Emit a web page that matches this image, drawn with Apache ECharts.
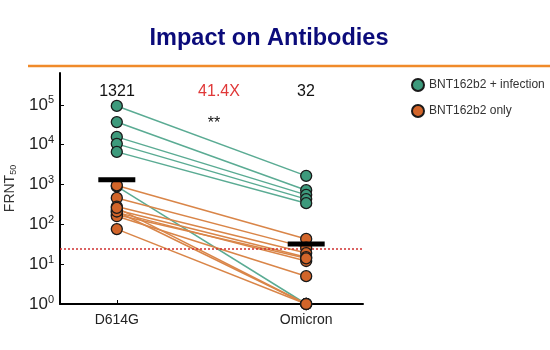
<!DOCTYPE html>
<html><head><meta charset="utf-8">
<script src="https://cdn.jsdelivr.net/npm/echarts@6/dist/echarts.min.js"></script>
<style>html,body{margin:0;padding:0;background:#fff}#c{width:550px;height:350px}</style>
</head><body><div id="c"></div>
<script>
// categories (x positions 1 and 2)
const categories = ['D614G', 'Omicron'];
// BNT162b2 + infection: paired values
const infD614G   = [94000, 37000, 15700, 10500, 6600, 900];
const infOmicron = [1650, 720, 550, 430, 340, 1];
// BNT162b2 only: paired values
const onlyD614G   = [950, 460, 280, 230, 200, 175, 160, 210, 260, 76];
const onlyOmicron = [43, 26, 19, 15, 12, 14, 5, 1, 1, 1];
// geometric means
const means = [1321, 32];
const meanLabels = ['1321', '32'];
const foldLabel = '41.4X';
const signif = '**';
const limit = 25;
const yTicks = [1, 10, 100, 1000, 10000, 100000];

const GREEN = '#3d9a7c', GREEN_L = '#5aab93';
const ORANGE = '#d2652a', ORANGE_L = '#d98548';

function pairs(a, b) { return a.map((v, i) => ({ coords: [[1, v], [2, b[i]]] })); }
function pts(a, b) { const r = []; a.forEach(v => r.push([1, v])); b.forEach(v => r.push([2, v])); return r; }

const chart = echarts.init(document.getElementById('c'));
chart.setOption({
  animation: false,
  backgroundColor: '#fff',
  title: {
    text: 'Impact on Antibodies', left: 264, top: 22, textAlign: 'center',
    textStyle: { color: '#0b0b7a', fontSize: 23.5, fontWeight: 'bold', fontFamily: 'Liberation Sans' }
  },
  legend: {
    orient: 'vertical', left: 406, top: 73, itemGap: 12, itemWidth: 12, itemHeight: 12,
    icon: 'circle', textStyle: { fontSize: 12, color: '#333', fontFamily: 'Liberation Sans' },
    data: ['BNT162b2 + infection', 'BNT162b2 only']
  },
  grid: { left: 60, right: 187, top: 73, bottom: 46, containLabel: false, outerBoundsMode: 'none' },
  xAxis: {
    type: 'value', min: 0.7, max: 2.3,
    axisLine: { lineStyle: { color: '#000', width: 2 } },
    splitLine: { show: false },
    axisTick: { inside: true, length: 4, lineStyle: { color: '#000' }, customValues: [1, 2] },
    axisLabel: { customValues: [1, 2], formatter: v => categories[Math.round(v) - 1], fontSize: 14, color: '#222', margin: 9, fontFamily: 'Liberation Sans' }
  },
  yAxis: {
    type: 'log', logBase: 10, min: 1, max: 631000,
    name: '{a|FRNT}{b|50}', nameLocation: 'middle', nameGap: 39, nameRotate: 90,
    nameTextStyle: { rich: { a: { fontSize: 14, color: '#333', fontFamily: 'Liberation Sans' }, b: { fontSize: 9, color: '#333', verticalAlign: 'bottom', padding: [6, 0, 0, 0], fontFamily: 'Liberation Sans' } } },
    axisLine: { show: true, lineStyle: { color: '#000', width: 2 } },
    splitLine: { show: false },
    axisTick: { inside: true, length: 4, lineStyle: { color: '#000' }, customValues: yTicks },
    axisLabel: {
      customValues: yTicks, margin: 6, color: '#222',
      formatter: v => '{b|10}{s|' + Math.round(Math.log10(v)) + '}',
      rich: { b: { fontSize: 17, fontFamily: 'Liberation Sans', color: '#222' }, s: { fontSize: 11, fontFamily: 'Liberation Sans', color: '#222', verticalAlign: 'top', padding: [0, 0, 9, 0] } }
    }
  },
  series: [
    { type: 'lines', coordinateSystem: 'cartesian2d', z: 2, lineStyle: { color: GREEN_L, width: 1.5, opacity: 1 }, data: pairs(infD614G, infOmicron) },
    { type: 'lines', coordinateSystem: 'cartesian2d', z: 2, lineStyle: { color: ORANGE_L, width: 1.5, opacity: 1 }, data: pairs(onlyD614G, onlyOmicron) },
    { name: 'BNT162b2 + infection', type: 'scatter', z: 4, symbol: 'circle', symbolSize: 11,
      itemStyle: { color: GREEN, borderColor: '#1a1a1a', borderWidth: 1.3, opacity: 1 }, data: pts(infD614G, infOmicron),
      markLine: { silent: true, symbol: 'none', label: { show: false }, lineStyle: { color: '#d03030', type: [2, 2], width: 1.5 }, data: [{ yAxis: limit }] } },
    { name: 'BNT162b2 only', type: 'scatter', z: 5, symbol: 'circle', symbolSize: 11,
      itemStyle: { color: ORANGE, borderColor: '#1a1a1a', borderWidth: 1.3, opacity: 1 }, data: pts(onlyD614G, onlyOmicron) },
    { type: 'scatter', z: 6, symbol: 'rect', symbolSize: [37, 5], itemStyle: { color: '#000', opacity: 1 }, data: means.map((v, i) => [i + 1, v]), silent: true }
  ],
  graphic: [
    { type: 'line', shape: { x1: 28, y1: 66, x2: 550, y2: 66 }, style: { stroke: '#f08a2a', lineWidth: 2.5 } },
    { type: 'text', x: 117, y: 92, style: { text: meanLabels[0], fontSize: 16, fill: '#111', align: 'center', verticalAlign: 'middle', fontFamily: 'Liberation Sans' } },
    { type: 'text', x: 219, y: 92, style: { text: foldLabel, fontSize: 16, fill: '#e03838', align: 'center', verticalAlign: 'middle', fontFamily: 'Liberation Sans' } },
    { type: 'text', x: 306, y: 92, style: { text: meanLabels[1], fontSize: 16, fill: '#111', align: 'center', verticalAlign: 'middle', fontFamily: 'Liberation Sans' } },
    { type: 'text', x: 214, y: 124, style: { text: signif, fontSize: 16, fill: '#111', align: 'center', verticalAlign: 'middle', fontFamily: 'Liberation Sans' } }
  ]
});
</script></body></html>
